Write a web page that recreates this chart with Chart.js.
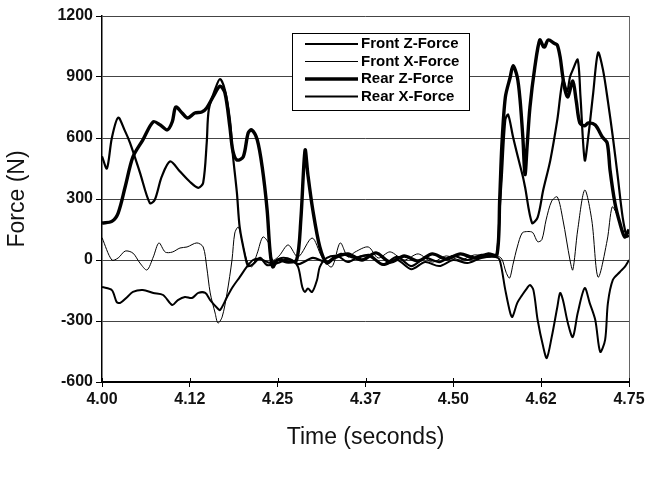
<!DOCTYPE html>
<html>
<head>
<meta charset="utf-8">
<title>Force (N) / Time (seconds)</title>
<script src="https://cdn.jsdelivr.net/npm/chart.js@4.4.1/dist/chart.umd.min.js"></script>
<style>
  html, body { margin: 0; padding: 0; background: #fff; }
  #wrap { width: 648px; height: 477px; }
</style>
</head>
<body>
<div id="wrap"><canvas id="forceChart" width="648" height="477"></canvas></div>
<script>
// Graduations des axes
const xTickLabels = ['4.00', '4.12', '4.25', '4.37', '4.50', '4.62', '4.75'];
const yTickLabels = ['-600', '-300', '0', '300', '600', '900', '1200'];

// Séries (temps en s, force en N)
const frontZTime = [4.000, 4.007, 4.014, 4.023, 4.032, 4.040, 4.054, 4.068, 4.075, 4.085, 4.097, 4.111, 4.125, 4.137, 4.144, 4.149, 4.152, 4.161, 4.168, 4.175, 4.182, 4.186, 4.192, 4.196, 4.204, 4.208, 4.215, 4.225, 4.235, 4.250, 4.265, 4.280, 4.300, 4.320, 4.340, 4.360, 4.380, 4.400, 4.420, 4.440, 4.460, 4.480, 4.500, 4.520, 4.540, 4.555, 4.562, 4.566, 4.569, 4.574, 4.578, 4.585, 4.592, 4.599, 4.602, 4.612, 4.620, 4.628, 4.638, 4.648, 4.656, 4.662, 4.666, 4.670, 4.677, 4.681, 4.687, 4.692, 4.699, 4.706, 4.713, 4.720, 4.727, 4.734, 4.741, 4.747, 4.750];
const frontZForce = [510, 450, 600, 700, 640, 575, 430, 280, 295, 410, 485, 435, 385, 355, 380, 575, 740, 840, 890, 835, 690, 525, 330, 160, 15, -30, -20, 10, -25, -15, 5, -20, 10, -10, 30, 10, 25, -20, 15, -30, 10, -10, 20, 0, 25, 20, 30, 250, 410, 690, 715, 605, 505, 410, 360, 182, 210, 345, 490, 690, 885, 830, 900, 935, 985, 800, 490, 605, 820, 1020, 935, 780, 605, 410, 210, 115, 120];

const frontXTime = [4.000, 4.014, 4.023, 4.033, 4.044, 4.054, 4.064, 4.073, 4.081, 4.090, 4.100, 4.111, 4.121, 4.135, 4.144, 4.149, 4.154, 4.161, 4.165, 4.171, 4.178, 4.185, 4.189, 4.194, 4.199, 4.206, 4.213, 4.221, 4.229, 4.237, 4.243, 4.252, 4.265, 4.279, 4.299, 4.313, 4.327, 4.339, 4.350, 4.360, 4.379, 4.393, 4.410, 4.430, 4.450, 4.470, 4.490, 4.510, 4.530, 4.550, 4.562, 4.569, 4.575, 4.580, 4.585, 4.591, 4.598, 4.606, 4.613, 4.620, 4.626, 4.632, 4.640, 4.648, 4.656, 4.666, 4.670, 4.677, 4.687, 4.697, 4.706, 4.719, 4.726, 4.732, 4.740, 4.750];
const frontXForce = [110, 0, 10, 44, 34, -15, -49, 15, 84, 39, 39, 59, 64, 84, 64, -34, -162, -261, -310, -280, -162, 0, 133, 162, 98, 0, -34, 34, 113, 84, 0, 20, 74, 15, 108, 15, -34, 84, 15, 39, 64, 10, 40, 0, 30, -10, 20, 0, 25, 15, 20, 5, -60, -89, -20, 64, 133, 140, 135, 90, 100, 197, 290, 310, 197, 0, -49, 148, 344, 197, -84, 98, 261, 230, 150, 130];

const rearZTime = [4.000, 4.014, 4.023, 4.033, 4.044, 4.058, 4.073, 4.083, 4.093, 4.100, 4.105, 4.114, 4.122, 4.132, 4.142, 4.149, 4.158, 4.168, 4.175, 4.182, 4.186, 4.192, 4.201, 4.208, 4.213, 4.221, 4.228, 4.235, 4.239, 4.243, 4.250, 4.265, 4.277, 4.283, 4.289, 4.293, 4.300, 4.310, 4.320, 4.330, 4.350, 4.370, 4.390, 4.410, 4.430, 4.450, 4.470, 4.490, 4.510, 4.530, 4.550, 4.562, 4.566, 4.569, 4.574, 4.581, 4.585, 4.591, 4.595, 4.599, 4.602, 4.605, 4.609, 4.616, 4.623, 4.628, 4.630, 4.635, 4.644, 4.648, 4.652, 4.655, 4.659, 4.663, 4.670, 4.675, 4.680, 4.687, 4.692, 4.702, 4.712, 4.719, 4.723, 4.730, 4.737, 4.744, 4.750];
const rearZForce = [182, 190, 231, 360, 507, 590, 680, 664, 640, 680, 752, 723, 698, 723, 728, 748, 802, 855, 821, 654, 541, 492, 507, 625, 640, 590, 457, 246, 49, -34, 0, -10, 0, 200, 541, 420, 246, 64, -15, 10, 30, 0, 35, -10, 20, -5, 30, 5, 30, 10, 30, 25, 300, 560, 800, 900, 955, 900, 787, 600, 420, 560, 750, 949, 1082, 1050, 1048, 1082, 1065, 1057, 998, 920, 836, 802, 880, 780, 674, 660, 674, 664, 605, 575, 443, 280, 182, 113, 150];

const rearXTime = [4.000, 4.014, 4.021, 4.026, 4.036, 4.044, 4.058, 4.073, 4.087, 4.100, 4.108, 4.118, 4.128, 4.137, 4.147, 4.154, 4.164, 4.168, 4.178, 4.186, 4.196, 4.206, 4.215, 4.225, 4.240, 4.255, 4.270, 4.279, 4.285, 4.289, 4.293, 4.299, 4.306, 4.310, 4.320, 4.335, 4.350, 4.365, 4.380, 4.400, 4.420, 4.440, 4.460, 4.480, 4.500, 4.520, 4.540, 4.560, 4.566, 4.574, 4.581, 4.584, 4.591, 4.598, 4.605, 4.609, 4.614, 4.620, 4.628, 4.633, 4.640, 4.648, 4.652, 4.656, 4.663, 4.670, 4.677, 4.687, 4.694, 4.702, 4.709, 4.716, 4.720, 4.727, 4.737, 4.744, 4.750];
const rearXForce = [-133, -148, -207, -211, -182, -157, -148, -162, -172, -221, -197, -182, -187, -162, -162, -197, -236, -246, -182, -133, -84, -34, 0, 5, -15, 10, 0, -34, -133, -157, -140, -157, -98, -34, 10, 20, -10, 15, 20, -25, 0, -45, -10, -30, 0, -15, 10, 15, 0, -148, -261, -280, -211, -172, -138, -123, -148, -295, -428, -482, -379, -231, -162, -197, -310, -379, -261, -138, -211, -295, -452, -393, -211, -98, -59, -34, 0];

const seriesLabels = ['Front Z-Force', 'Front X-Force', 'Rear Z-Force', 'Rear X-Force'];

// Fonction pour assembler les points {x, y}
function toPoints(times, values) {
    return times.map((t, i) => ({ x: t, y: values[i] }));
}

// Bordure droite et petites graduations vers l'intérieur
const framePlugin = {
    id: 'framePlugin',
    afterDraw(chart) {
        const ctx = chart.ctx;
        const area = chart.chartArea;
        const xScale = chart.scales.x;
        ctx.save();
        ctx.strokeStyle = '#666';
        ctx.lineWidth = 1;
        ctx.beginPath();
        ctx.moveTo(area.right + 0.5, area.top);
        ctx.lineTo(area.right + 0.5, area.bottom);
        ctx.stroke();
        ctx.strokeStyle = '#000';
        xScale.ticks.forEach(tick => {
            const px = Math.round(xScale.getPixelForValue(tick.value)) + 0.5;
            ctx.beginPath();
            ctx.moveTo(px, area.bottom - 4);
            ctx.lineTo(px, area.bottom);
            ctx.stroke();
        });
        ctx.restore();
    }
};

// Légende encadrée dans la zone du graphique
const boxLegendPlugin = {
    id: 'boxLegendPlugin',
    afterDraw(chart) {
        const ctx = chart.ctx;
        const area = chart.chartArea;
        const left = area.left + 190;
        const top = area.top + 17;
        const width = 177;
        const height = 77;
        ctx.save();
        ctx.fillStyle = '#fff';
        ctx.fillRect(left, top, width, height);
        ctx.strokeStyle = '#000';
        ctx.lineWidth = 1;
        ctx.strokeRect(left + 0.5, top + 0.5, width, height);
        ctx.font = 'bold 15px "Liberation Sans", Arial, sans-serif';
        ctx.textBaseline = 'middle';
        ctx.fillStyle = '#000';
        chart.data.datasets.forEach((ds, i) => {
            const y = top + 11 + i * 17.5;
            ctx.lineWidth = ds.borderWidth;
            ctx.beginPath();
            ctx.moveTo(left + 13, y);
            ctx.lineTo(left + 66, y);
            ctx.stroke();
            ctx.fillText(ds.label, left + 69, y);
        });
        ctx.restore();
    }
};

// Fonction pour créer le graphique
function createChart(canvas) {
    const tickFont = { family: '"Liberation Sans", Arial, sans-serif', size: 16, weight: 'bold' };
    const titleFont = { family: '"Liberation Sans", Arial, sans-serif', size: 23 };
    const widths = [2.2, 1, 3.4, 2];
    const sources = [
        toPoints(frontZTime, frontZForce),
        toPoints(frontXTime, frontXForce),
        toPoints(rearZTime, rearZForce),
        toPoints(rearXTime, rearXForce)
    ];

    new Chart(canvas, {
        type: 'line',
        data: {
            datasets: sources.map((pts, i) => ({
                label: seriesLabels[i],
                data: pts,
                borderColor: '#000',
                borderWidth: widths[i],
                pointRadius: 0,
                tension: 0.3,
                fill: false
            }))
        },
        options: {
            responsive: false,
            animation: false,
            devicePixelRatio: 1,
            layout: { padding: { top: 16, right: 19, bottom: 0, left: 0 } },
            plugins: {
                legend: { display: false },
                tooltip: { enabled: false }
            },
            scales: {
                x: {
                    type: 'linear',
                    min: 4,
                    max: 4.75,
                    afterFit: scale => { scale.height = 95; },
                    ticks: {
                        stepSize: 0.125,
                        color: '#111',
                        font: tickFont,
                        padding: 3,
                        maxRotation: 0,
                        callback: (value, index) => xTickLabels[index]
                    },
                    grid: { drawOnChartArea: false, color: '#000', tickLength: 5 },
                    border: { color: '#000', width: 2 },
                    title: {
                        display: true,
                        text: 'Time (seconds)',
                        color: '#111',
                        font: titleFont,
                        padding: { top: 0, bottom: 26 }
                    }
                },
                y: {
                    min: -600,
                    max: 1200,
                    afterFit: scale => { scale.width = 102; },
                    ticks: {
                        stepSize: 300,
                        color: '#111',
                        font: tickFont,
                        padding: 3,
                        callback: (value, index) => yTickLabels[index]
                    },
                    grid: { color: '#444', tickColor: '#000', lineWidth: 1, tickLength: 6 },
                    border: { color: '#000', width: 1.5 },
                    title: {
                        display: true,
                        text: 'Force (N)',
                        color: '#111',
                        font: titleFont,
                        padding: { top: 4, bottom: 0 }
                    }
                }
            }
        },
        plugins: [framePlugin, boxLegendPlugin]
    });
}

document.addEventListener('DOMContentLoaded', () => {
    createChart(document.getElementById('forceChart'));
});
</script>
</body>
</html>
